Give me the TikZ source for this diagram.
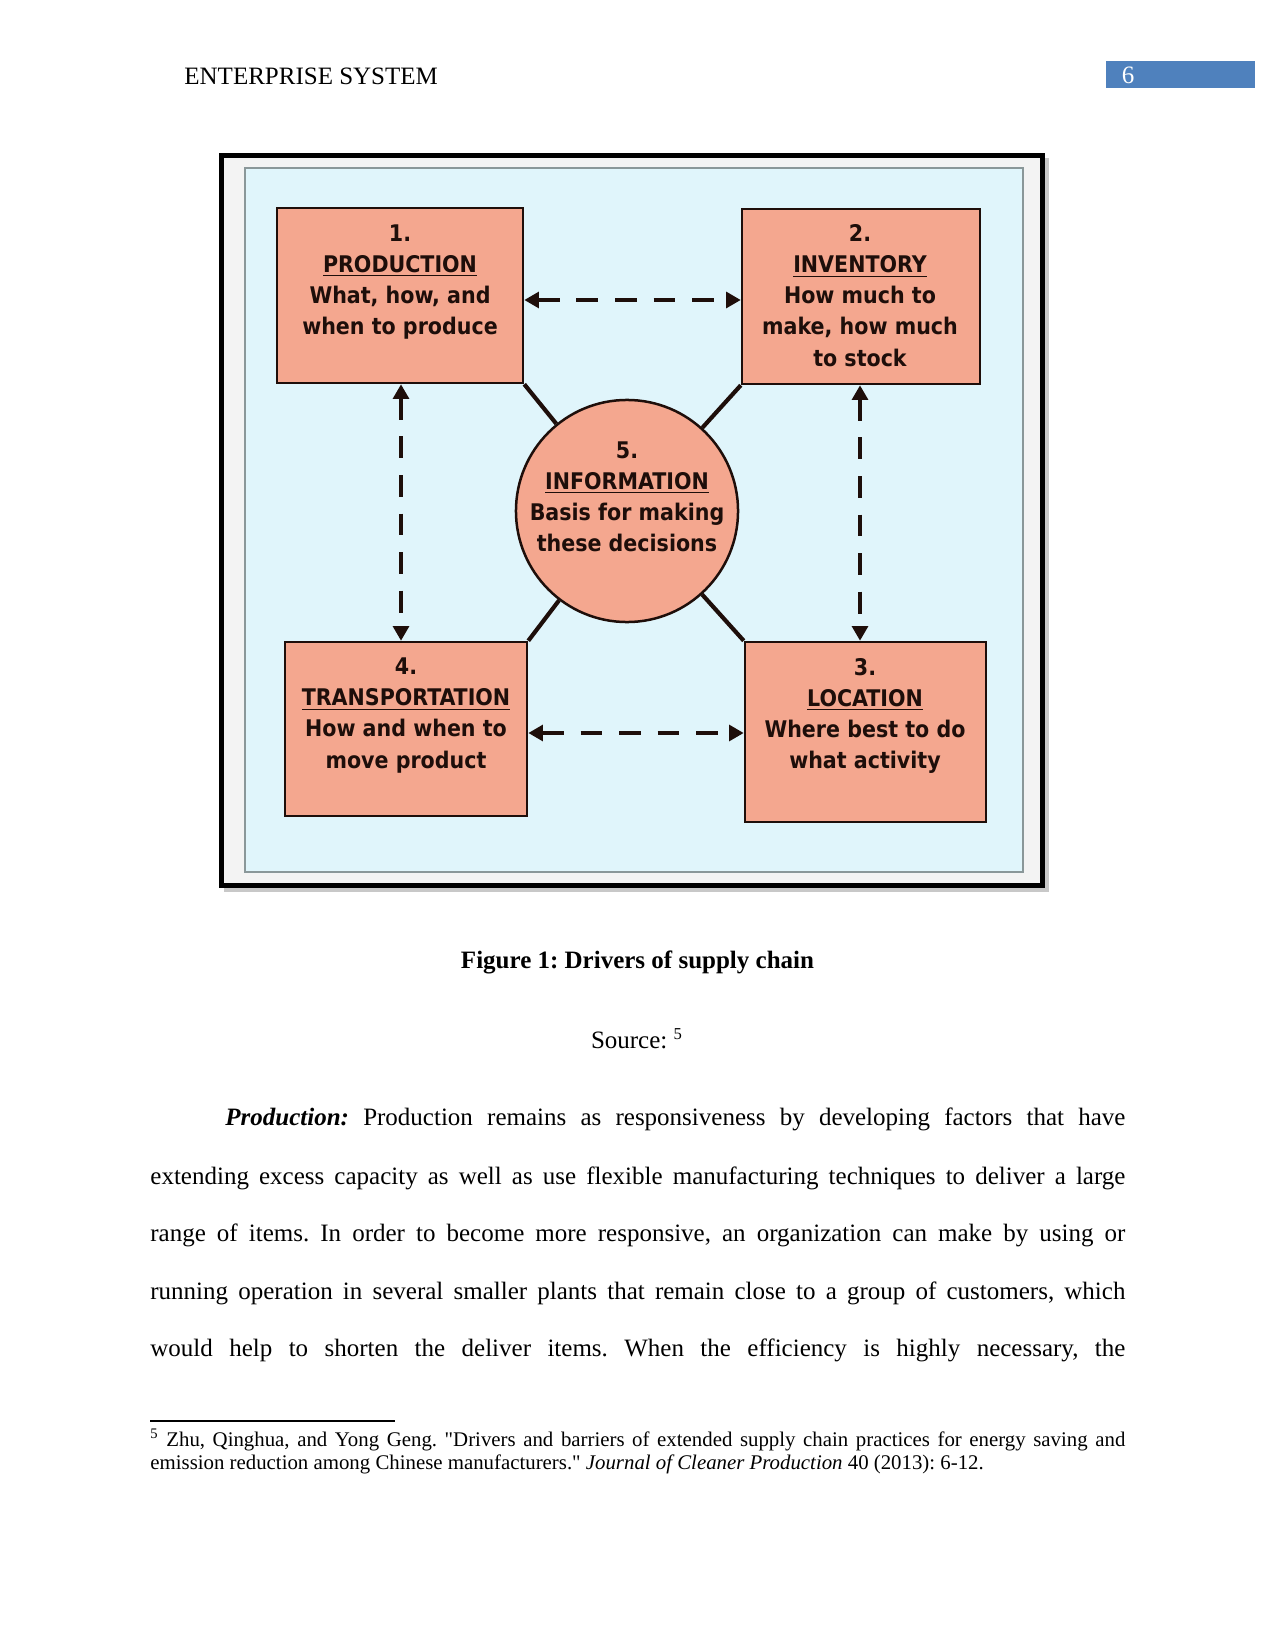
\documentclass[tikz,border=0pt]{standalone}
\usepackage{fontspec}
\setmainfont{Liberation Serif}[Ligatures=TeXOff]
\newfontfamily\diagfont{DejaVu Sans Condensed}
\usetikzlibrary{arrows.meta}
\definecolor{salmon}{HTML}{F4A78F}
\definecolor{panel}{HTML}{E0F5FB}
\definecolor{panelrule}{HTML}{8A9799}
\definecolor{inkdark}{HTML}{1E0E0A}
\definecolor{pagebox}{HTML}{4F81BD}
\definecolor{framegap}{HTML}{F3F3F3}
\definecolor{shadowgray}{HTML}{C8C8C8}
\frenchspacing
\begin{document}
\begin{tikzpicture}[x=0.48pt,y=-0.48pt,
  box/.style={draw=inkdark, line width=1.2pt, fill=salmon, inner sep=0pt},
  lbl/.style={font=\diagfont\bfseries\fontsize{11}{14.9}\selectfont, text=inkdark, align=center, inner sep=0pt},
  link/.style={draw=inkdark, line width=2pt},
  darrow/.style={draw=inkdark, line width=2.2pt, dash pattern=on 10.5pt off 8pt,
    {Triangle[length=7pt,width=7.5pt]}-{Triangle[length=7pt,width=7.5pt]}},
  body/.style={font=\fontsize{12}{13.8}\selectfont, inner sep=0pt, anchor=base west},
  foot/.style={font=\fontsize{10}{11.5}\selectfont, inner sep=0pt, anchor=base west}
]
\useasboundingbox[fill=white] (0,0) rectangle (1275,1650);

% header
\node[anchor=west, inner sep=0pt, font=\fontsize{12}{13.8}\selectfont] (hdr) at (184,76) {ENTERPRISE SYSTEM};
\node[fill=pagebox, minimum width=71.5pt, minimum height=13pt, inner sep=0pt] (pg) at (1180.5,74.5) {};
\node[text=white, inner sep=0pt, font=\fontsize{12}{13.8}\selectfont] (pgn) at (1128,75) {6};

% figure frame
\fill[shadowgray] (224,158) rectangle (1049,892);
\filldraw[fill=framegap, draw=black, line width=2.4pt] (221.5,155.5) rectangle (1042.5,885.5);
\filldraw[fill=panel, draw=panelrule, line width=0.9pt] (245,168) rectangle (1023,872);

% nodes
\node[box, circle, minimum size=106.6pt] (c) at (627,511) {};
\node[box, minimum width=118.1pt, minimum height=84pt] (p) at (400,295.5) {};
\node[box, minimum width=114.2pt, minimum height=84pt] (i) at (861,296.5) {};
\node[box, minimum width=116.2pt, minimum height=83.5pt] (t) at (406,729) {};
\node[box, minimum width=115.7pt, minimum height=86.4pt] (l) at (865.5,732) {};

% links to the circle
\draw[link] (p.south east) -- (c);
\draw[link] (i.south west) -- (c);
\draw[link] (t.north east) -- (c);
\draw[link] (l.north west) -- (c);

% dashed arrows
\draw[darrow] (p.east |- 0,300) -- (i.west |- 0,300);
\draw[darrow] (t.east |- 0,733) -- (l.west |- 0,733);
\draw[darrow] (p.south -| 401,0) -- (t.north -| 401,0);
\draw[darrow] (i.south -| 860,0) -- (l.north -| 860,0);

% labels
\node[lbl] (ptx) at (400,282) {1.\\\underline{PRODUCTION}\\What, how, and\\when to produce};
\node[lbl] (itx) at (860,295.6) {2.\\\underline{INVENTORY}\\How much to\\make, how much\\to stock};
\node[lbl] (ctx) at (627,496.5) {5.\\\underline{INFORMATION}\\Basis for making\\these decisions};
\node[lbl] (ttx) at (406,715.5) {4.\\\underline{TRANSPORTATION}\\How and when to\\move product};
\node[lbl] (ltx) at (865,716) {3.\\\underline{LOCATION}\\Where best to do\\what activity};

% caption
\node[inner sep=0pt, font=\bfseries\fontsize{12}{13.8}\selectfont] (cap) at (637.5,962) {Figure 1: Drivers of supply chain};
\node[inner sep=0pt, font=\fontsize{12}{13.8}\selectfont] (src) at (637,1039) {Source: \textsuperscript{5}};

% body text
\node[body] (b1) at (225,1125) {\makebox[432pt][s]{\textbf{\textit{Production:}} Production remains as responsiveness by developing factors that have}};
\node[body] (b2) at (150,1184) {\makebox[468pt][s]{extending excess capacity as well as use flexible manufacturing techniques to deliver a large}};
\node[body] (b3) at (150,1241) {\makebox[468pt][s]{range of items. In order to become more responsive, an organization can make by using or}};
\node[body] (b4) at (150,1299) {\makebox[468pt][s]{running operation in several smaller plants that remain close to a group of customers, which}};
\node[body] (b5) at (150,1356) {\makebox[468pt][s]{would help to shorten the deliver items. When the efficiency is highly necessary, the}};

% footnote
\draw[line width=0.8pt] (150,1421) coordinate (fr1) -- (395,1421) coordinate (fr2);
\node[foot] (f1) at (150,1446) {\makebox[468pt][s]{\textsuperscript{5} Zhu, Qinghua, and Yong Geng. "Drivers and barriers of extended supply chain practices for energy saving and}};
\node[foot] (f2) at (150,1469) {emission reduction among Chinese manufacturers." \textit{Journal of Cleaner Production} 40 (2013): 6-12.};
\end{tikzpicture}
\end{document}
